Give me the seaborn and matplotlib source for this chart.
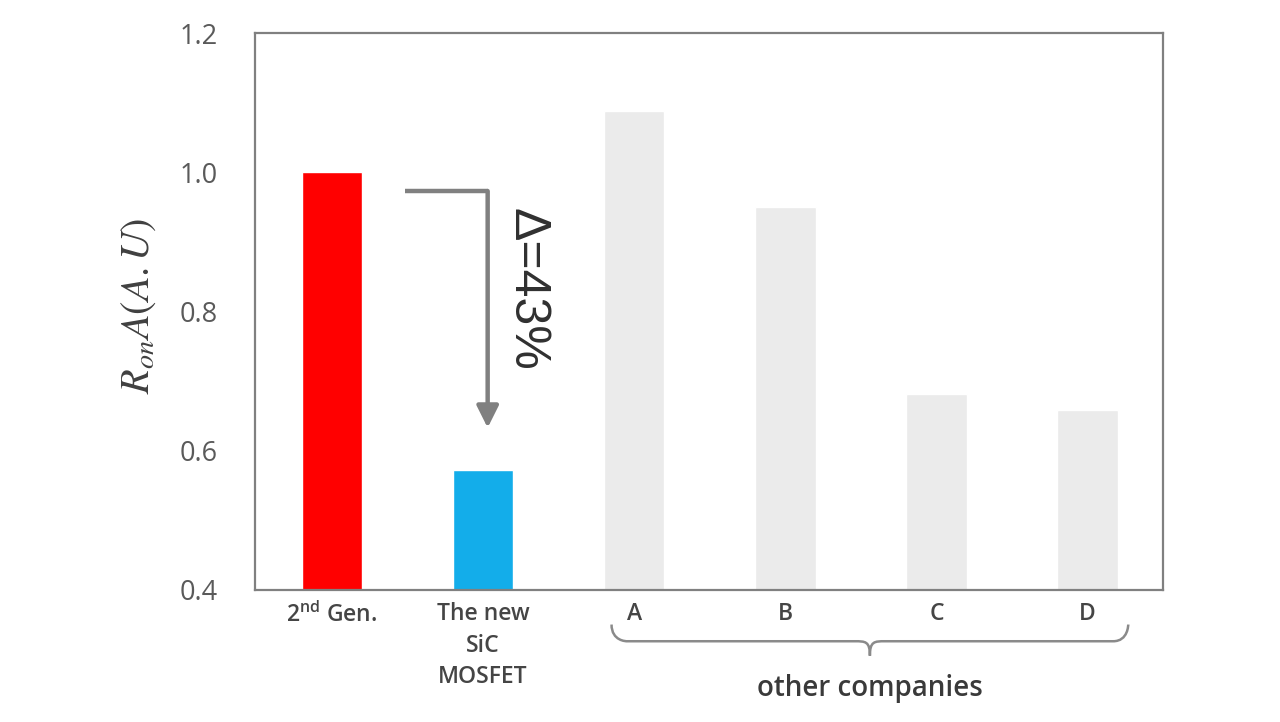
import numpy as np
import matplotlib
matplotlib.use("Agg")
import matplotlib.pyplot as plt
import seaborn as sns
from matplotlib.path import Path
from matplotlib.patches import PathPatch
from matplotlib.transforms import blended_transform_factory

categories = ["2$^{\\mathrm{nd}}$ Gen.", "The new\nSiC\nMOSFET", "A", "B", "C", "D"]
values = [1.0, 0.573, 1.088, 0.95, 0.682, 0.659]
bar_colors = ["#FF0000", "#13ADEA", "#EBEBEB", "#EBEBEB", "#EBEBEB", "#EBEBEB"]
yticks = [0.4, 0.6, 0.8, 1.0, 1.2]
delta_label = "Δ=43%"
group_label = "other companies"

sns.set_theme(style="white")
plt.rcParams["font.family"] = ["Open Sans", "DejaVu Sans"]
plt.rcParams["mathtext.fontset"] = "custom"
plt.rcParams["mathtext.rm"] = "Open Sans:semibold"

fig = plt.figure(figsize=(12.8, 7.22), dpi=100)
ax = fig.add_axes([255/1280, 1-590/722, 908/1280, 557/722])

xs = np.arange(len(categories))
sns.barplot(x=xs, y=values, hue=xs, palette=bar_colors, legend=False,
            width=0.4, ax=ax, saturation=1)

ax.set_ylim(0.4, 1.2)
ax.set_xlim(-0.51, 5.5)
ax.set_yticks(yticks)
ax.set_yticklabels([f"{v:.1f}" for v in yticks], fontsize=19.5, color="#5a5a5a")
ax.set_xticks(xs)
ax.set_xticklabels(categories, fontsize=16.5, color="#454545", linespacing=1.4,
                   fontweight="semibold")
ax.tick_params(axis="y", length=0, pad=27)
ax.tick_params(axis="x", length=0, pad=9)
ax.set_xlabel("")
ax.set_ylabel("")
for s in ax.spines.values():
    s.set_visible(True)
    s.set_color("#808080")
    s.set_linewidth(1.6)

ax.text(-0.128, 0.51, r"$R_{on}A(A.U)$", transform=ax.transAxes, rotation=90,
        ha="center", va="center", fontsize=29, color="#404040", math_fontfamily="stix")

# arrow from 2nd Gen. to new MOSFET
x_start = 0 + 0.48
x_turn = 1 + 0.03
y_top = values[0] - 0.027
y_end = values[1] + 0.06
ax.plot([x_start, x_turn], [y_top, y_top], color="#808080", lw=3.2, solid_capstyle="butt")
ax.annotate("", xy=(x_turn, y_end), xytext=(x_turn, y_top),
            arrowprops=dict(arrowstyle="-|>,head_length=1.1,head_width=0.55",
                            color="#808080", lw=3.2, shrinkA=0, shrinkB=0))
ax.text(1.29, (values[0] + values[1]) / 2 + 0.045, delta_label, rotation=-90,
        ha="center", va="center", fontsize=36, color="#303030",
        family=["Liberation Sans", "DejaVu Sans"])

# brace under other companies
tr = blended_transform_factory(ax.transData, ax.transAxes)
x0, x1 = 1.85, 5.27
xm = (x0 + x1) / 2
yt, yl, yp = -0.062, -0.092, -0.118
d = 0.1
verts = [(x0, yt), (x0, yl), (x0 + d, yl), (x0 + d, yl),
         (xm - d, yl),
         (xm - d * 0.3, yl), (xm, yl), (xm, yp),
         (xm, yl), (xm + d * 0.3, yl), (xm + d, yl),
         (x1 - d, yl),
         (x1, yl), (x1, yt), (x1, yt)]
codes = [Path.MOVETO, Path.CURVE4, Path.CURVE4, Path.CURVE4,
         Path.LINETO,
         Path.CURVE4, Path.CURVE4, Path.CURVE4,
         Path.CURVE4, Path.CURVE4, Path.CURVE4,
         Path.LINETO,
         Path.CURVE4, Path.CURVE4, Path.CURVE4]
patch = PathPatch(Path(verts, codes), transform=tr, fill=False,
                  edgecolor="#8a8a8a", lw=1.8, clip_on=False)
ax.add_patch(patch)
ax.text(xm, -0.176, group_label, transform=tr, ha="center", va="center",
        fontsize=20, color="#3a3a3a", clip_on=False, fontweight="semibold")

fig.savefig("out.png", dpi=100, facecolor="white")
